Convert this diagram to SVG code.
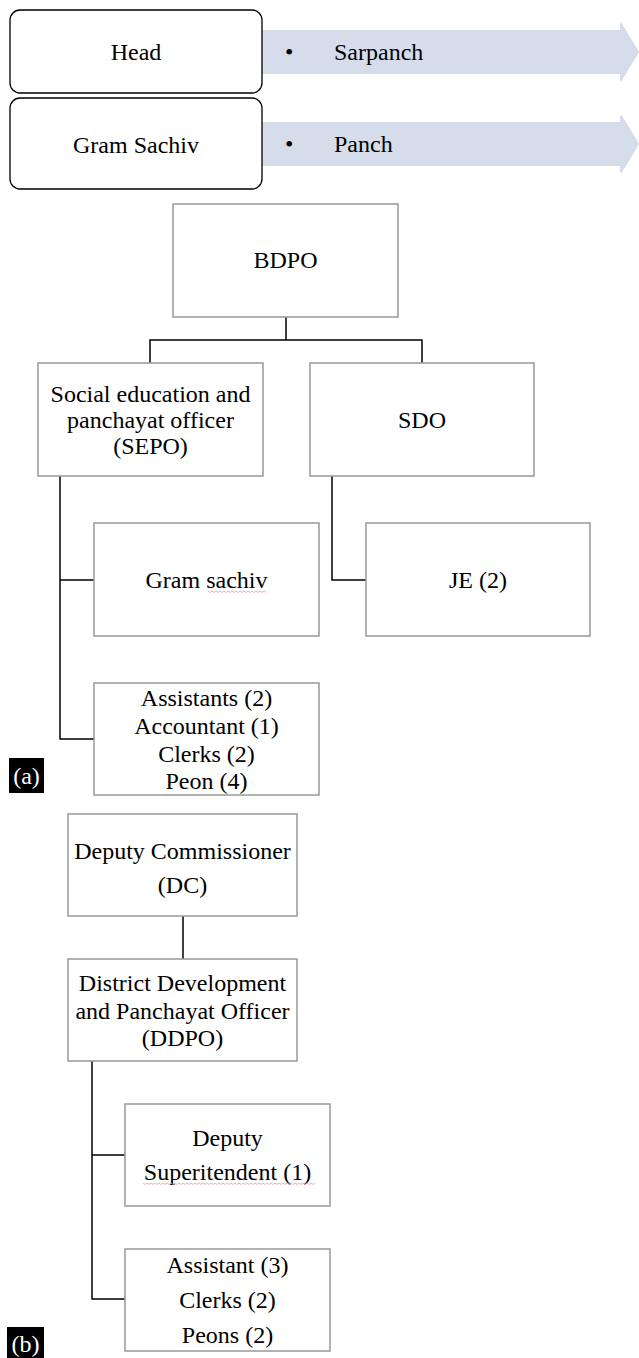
<svg xmlns="http://www.w3.org/2000/svg" width="639" height="1358" viewBox="0 0 639 1358">
<style>
text{font-family:"Liberation Serif","Times New Roman",serif;font-size:24px;fill:#000}
.c{text-anchor:middle}
.box{fill:#fff;stroke:#999;stroke-width:1.5}
.rbox{fill:#fff;stroke:#000;stroke-width:1.3}
.arr{fill:#d5dcea;stroke:#d5dcea;stroke-width:2;stroke-linejoin:round}
.con{fill:none;stroke:#000;stroke-width:1.5}
.sq{fill:none;stroke:#e99;stroke-width:0.8}
.lbl{fill:#000}
.lt{fill:#fff;text-anchor:middle}
</style>
<g id="row-head">
<polygon class="arr" points="255,31 621,31 621,24 638,52 621,80 621,73 255,73"/>
<rect class="rbox" x="10" y="10" width="252" height="83" rx="10"/>
<text class="c" x="136" y="60">Head</text>
<text x="285" y="60">•</text>
<text x="334" y="60">Sarpanch</text>
</g>
<g id="row-gramsachiv">
<polygon class="arr" points="255,123 621,123 621,116 638,144 621,172 621,165 255,165"/>
<rect class="rbox" x="10" y="98" width="252" height="91" rx="10"/>
<text class="c" x="136" y="153">Gram Sachiv</text>
<text x="285" y="152">•</text>
<text x="334" y="152">Panch</text>
</g>
<g id="connectors">
<path class="con" d="M286,317 V340 M150,363 V340 H422 V363"/>
<path class="con" d="M60,476 V739 H94 M60,580 H94"/>
<path class="con" d="M332,476 V580 H366"/>
<path class="con" d="M183,916 V959"/>
<path class="con" d="M92,1061 V1299 H125 M92,1155 H125"/>
</g>
<g id="bdpo">
<rect class="box" x="173" y="204" width="225" height="113"/>
<text class="c" x="285.5" y="268">BDPO</text>
</g>
<g id="sepo">
<rect class="box" x="38" y="363" width="225" height="113"/>
<text class="c" x="150.5" y="402">Social education and</text>
<text class="c" x="150.5" y="428">panchayat officer</text>
<text class="c" x="150.5" y="454">(SEPO)</text>
</g>
<g id="sdo">
<rect class="box" x="310" y="363" width="224" height="113"/>
<text class="c" x="422" y="428">SDO</text>
</g>
<g id="gram-sachiv">
<rect class="box" x="94" y="523" width="225" height="113"/>
<text class="c" x="206.5" y="588">Gram sachiv</text>
<path class="sq" d="M208,591 l2,1.5 l2,-1.5 l2,1.5 l2,-1.5 l2,1.5 l2,-1.5 l2,1.5 l2,-1.5 l2,1.5 l2,-1.5 l2,1.5 l2,-1.5 l2,1.5 l2,-1.5 l2,1.5 l2,-1.5 l2,1.5 l2,-1.5 l2,1.5 l2,-1.5 l2,1.5 l2,-1.5 l2,1.5 l2,-1.5 l2,1.5 l2,-1.5 l2,1.5 l2,-1.5 l2,1.5"/>
</g>
<g id="je">
<rect class="box" x="366" y="523" width="224" height="113"/>
<text class="c" x="478" y="588">JE (2)</text>
</g>
<g id="assistants-a">
<rect class="box" x="94" y="683" width="225" height="112"/>
<text class="c" x="206.5" y="706">Assistants (2)</text>
<text class="c" x="206.5" y="734">Accountant (1)</text>
<text class="c" x="206.5" y="762">Clerks (2)</text>
<text class="c" x="206.5" y="789">Peon (4)</text>
</g>
<g id="label-a">
<rect class="lbl" x="9" y="758" width="35" height="35"/>
<text class="lt" x="26.5" y="784">(a)</text>
</g>
<g id="dc">
<rect class="box" x="68" y="814" width="229" height="102"/>
<text class="c" x="182.5" y="859">Deputy Commissioner</text>
<text class="c" x="182.5" y="893">(DC)</text>
</g>
<g id="ddpo">
<rect class="box" x="68" y="959" width="229" height="102"/>
<text class="c" x="182.5" y="991">District Development</text>
<text class="c" x="182.5" y="1019">and Panchayat Officer</text>
<text class="c" x="182.5" y="1046">(DDPO)</text>
</g>
<g id="deputy-superintendent">
<rect class="box" x="125" y="1104" width="205" height="102"/>
<text class="c" x="227.5" y="1146">Deputy</text>
<text class="c" x="227.5" y="1180">Superitendent (1)</text>
<path class="sq" d="M143,1183 l2,1.5 l2,-1.5 l2,1.5 l2,-1.5 l2,1.5 l2,-1.5 l2,1.5 l2,-1.5 l2,1.5 l2,-1.5 l2,1.5 l2,-1.5 l2,1.5 l2,-1.5 l2,1.5 l2,-1.5 l2,1.5 l2,-1.5 l2,1.5 l2,-1.5 l2,1.5 l2,-1.5 l2,1.5 l2,-1.5 l2,1.5 l2,-1.5 l2,1.5 l2,-1.5 l2,1.5 l2,-1.5 l2,1.5 l2,-1.5 l2,1.5 l2,-1.5 l2,1.5 l2,-1.5 l2,1.5 l2,-1.5 l2,1.5 l2,-1.5 l2,1.5 l2,-1.5 l2,1.5 l2,-1.5 l2,1.5 l2,-1.5 l2,1.5 l2,-1.5 l2,1.5 l2,-1.5 l2,1.5 l2,-1.5 l2,1.5 l2,-1.5 l2,1.5 l2,-1.5 l2,1.5 l2,-1.5 l2,1.5 l2,-1.5 l2,1.5 l2,-1.5 l2,1.5 l2,-1.5 l2,1.5 l2,-1.5 l2,1.5 l2,-1.5 l2,1.5 l2,-1.5 l2,1.5 l2,-1.5 l2,1.5 l2,-1.5 l2,1.5 l2,-1.5 l2,1.5 l2,-1.5 l2,1.5 l2,-1.5 l2,1.5 l2,-1.5 l2,1.5 l2,-1.5 l2,1.5 l2,-1.5"/>
</g>
<g id="assistant-b">
<rect class="box" x="125" y="1249" width="205" height="102"/>
<text class="c" x="227.5" y="1273">Assistant (3)</text>
<text class="c" x="227.5" y="1308">Clerks (2)</text>
<text class="c" x="227.5" y="1343">Peons (2)</text>
</g>
<g id="label-b">
<rect class="lbl" x="7" y="1327" width="37" height="31"/>
<text class="lt" x="25.5" y="1352">(b)</text>
</g>
</svg>
